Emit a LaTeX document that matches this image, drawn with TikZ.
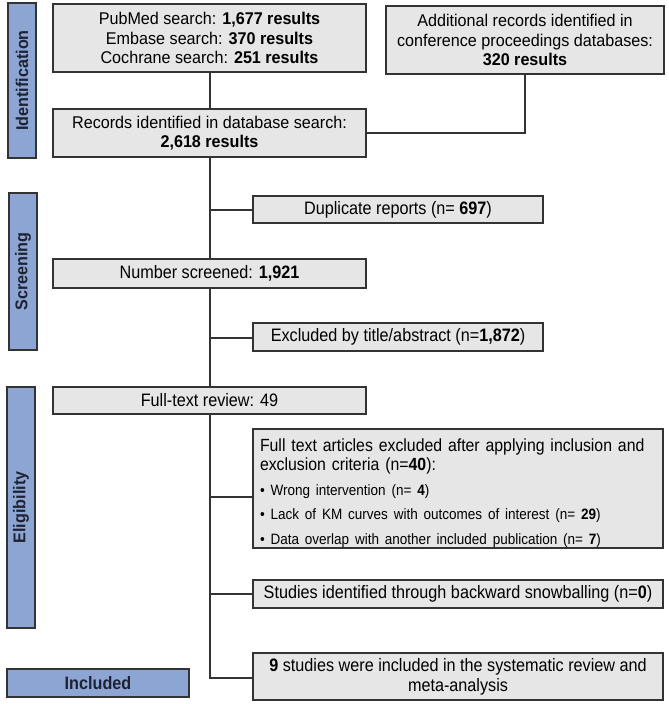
\documentclass[tikz,border=0pt]{standalone}
\usepackage{fontspec}
\setmainfont{Liberation Sans}
\newfontfamily\topfontfam[FakeStretch=0.95]{Liberation Sans}
\newfontfamily\narrowfont[FakeStretch=0.9]{Liberation Sans}
\definecolor{boxfill}{HTML}{E6E6E6}
\definecolor{sidefill}{HTML}{8CA5D3}
\definecolor{edge}{HTML}{333333}
\definecolor{labeltext}{HTML}{1E2233}
\newcommand{\bulletline}[1]{\mbox{\fontsize{15}{19}\selectfont\textbullet\ #1}}
\begin{document}
\begin{tikzpicture}[x=1pt,y=-1pt,
  box/.style={draw=edge, fill=boxfill, line width=1.3pt, inner sep=0pt, align=center},
  topfont/.style={font=\topfontfam\fontsize{17}{19.5}\selectfont},
  lowfont/.style={font=\narrowfont\fontsize{18}{20}\selectfont},
  side/.style={draw=edge, fill=sidefill, line width=1.3pt, inner sep=0pt, text=labeltext,
    font=\topfontfam\bfseries\fontsize{17}{19}\selectfont},
  conn/.style={draw=edge, line width=1.3pt}]
\useasboundingbox (0,0) rectangle (669,704);

% side labels
\node[side, minimum width=28pt, minimum height=155pt] (idS) at (22,80.5) {\rotatebox{90}{Identification}};
\node[side, minimum width=28pt, minimum height=157pt] (scS) at (23,271.5) {\rotatebox{90}{Screening}};
\node[side, minimum width=28pt, minimum height=241pt] (elS) at (21,507.5) {\rotatebox{90}{Eligibility}};
\node[side, minimum width=182pt, minimum height=28pt, font=\narrowfont\bfseries\fontsize{18}{20}\selectfont] (inc) at (98,683) {Included};

% identification
\node[box, topfont, minimum width=313pt, minimum height=68pt] (b1) at (209.5,38)
  {PubMed search: \textbf{1,677 results}\\Embase search: \textbf{370 results}\\Cochrane search: \textbf{251 results}};
\node[box, topfont, minimum width=278pt, minimum height=68pt] (b2) at (525,40)
  {Additional records identified in\\conference proceedings databases:\\\textbf{320 results}};
\node[box, topfont, minimum width=313pt, minimum height=48pt] (b3) at (209.5,133)
  {Records identified in database search:\\\textbf{2,618 results}};

% screening
\node[box, lowfont, minimum width=290pt, minimum height=27pt] (dup) at (398,209.5)
  {Duplicate reports (n= \textbf{697})};
\node[box, lowfont, minimum width=313pt, minimum height=29pt] (ns) at (209.5,273.5)
  {Number screened: \textbf{1,921}};
\node[box, lowfont, minimum width=290pt, minimum height=28pt] (excl) at (398,337)
  {Excluded by title/abstract (n=\textbf{1,872})};

% eligibility
\node[box, lowfont, minimum width=313pt, minimum height=27pt] (ftr) at (209.5,400.5)
  {Full-text review: 49};
\node[box, font=\narrowfont\fontsize{17.6}{19.5}\selectfont, minimum width=410pt, minimum height=119pt, text width=396pt, align=left] (ft) at (458,488.5)
  {\mbox{\rule{0pt}{22pt}Full text articles excluded after applying inclusion and}\\
   \mbox{exclusion criteria (n=\textbf{40}):}\\[5pt]
   \bulletline{Wrong intervention (n= \textbf{4})}\\[5pt]
   \bulletline{Lack of KM curves with outcomes of interest (n= \textbf{29})}\\[5pt]
   \bulletline{Data overlap with another included publication (n= \textbf{7})}};
\node[box, lowfont, minimum width=410pt, minimum height=28pt] (st) at (458,594)
  {Studies identified through backward snowballing (n=\textbf{0})};
\node[box, lowfont, minimum width=410pt, minimum height=47pt] (nine) at (458,676.5)
  {\textbf{9} studies were included in the systematic review and\\meta-analysis};

% connectors
\coordinate (j1) at (525,133);
\coordinate (t1) at (210,210);
\coordinate (t2) at (210,338);
\coordinate (t3) at (210,497);
\coordinate (t4) at (210,594);
\coordinate (t5) at (210,678);
\draw[conn] (b1.south -| t1) -- (b3.north -| t1);
\draw[conn] (b2.south -| j1) -- (j1) -- (b3.east |- j1);
\draw[conn] (b3.south -| t1) -- (ns.north -| t1);
\draw[conn] (t1) -- (dup.west |- t1);
\draw[conn] (ns.south -| t2) -- (ftr.north -| t2);
\draw[conn] (t2) -- (excl.west |- t2);
\draw[conn] (ftr.south -| t5) -- (t5) -- (nine.west |- t5);
\draw[conn] (t3) -- (ft.west |- t3);
\draw[conn] (t4) -- (st.west |- t4);
\end{tikzpicture}
\end{document}
